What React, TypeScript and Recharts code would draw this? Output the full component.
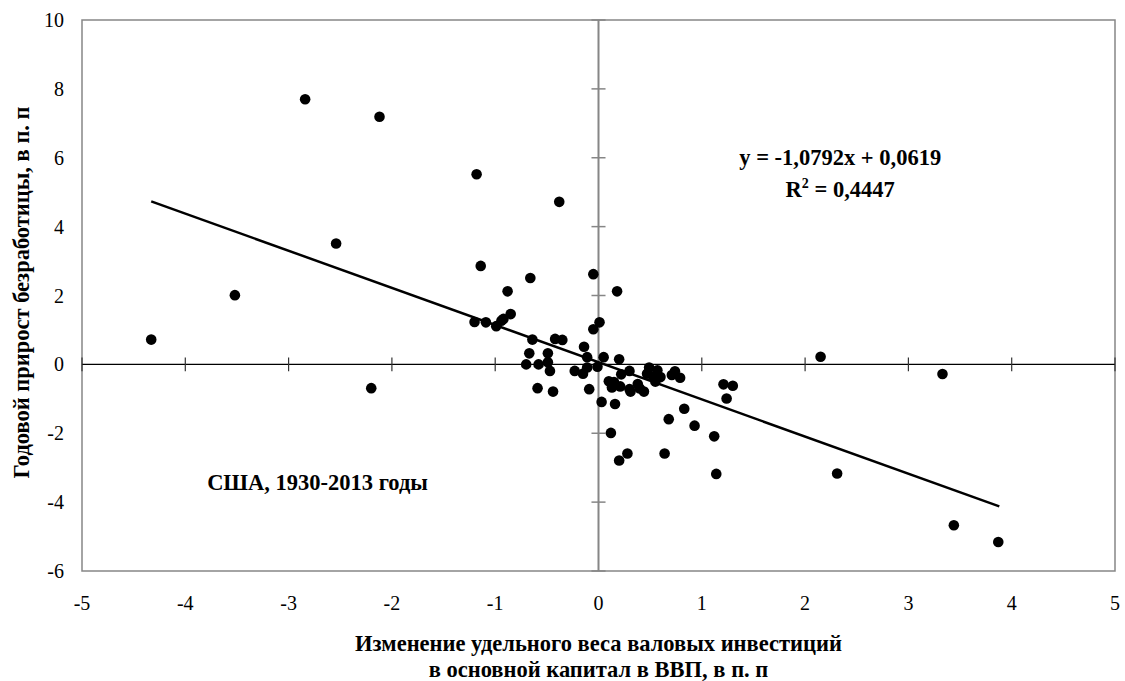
import {
  ScatterChart,
  Scatter,
  XAxis,
  YAxis,
  ReferenceLine,
  ReferenceArea,
  ReferenceDot,
} from "recharts";

// Change in the share of gross fixed capital investment in GDP (pp)
const xValues = [
  -4.33, -3.52, -2.84, -2.12, -2.54, -2.2, -1.18, -0.38, 2.15, 3.33, 2.31, 3.44, 3.87,
  -1.14, -0.66, -0.05, 0.18, -0.88, -0.85, -0.92, -0.94, -1.2, -1.09, -0.99, 0.01, -0.05,
  -0.64, -0.42, -0.35, -0.14, -0.67, -0.49, -0.11, 0.05, 0.2, -0.7, -0.58, -0.49, -0.47,
  -0.23, -0.15, -0.11, -0.01, -0.59, -0.44, -0.09, 0.03, 0.16, 0.12, 0.28, 0.2, 0.64,
  1.14, 1.12, 0.93, 0.68, 0.83, 1.21, 1.3, 1.24, 0.22, 0.3, 0.1, 0.15, 0.13, 0.21, 0.3,
  0.31, 0.38, 0.44, 0.4, 0.49, 0.47, 0.57, 0.53, 0.6, 0.55, 0.74, 0.71, 0.79,
];

// Annual change in the unemployment rate (pp)
const yValues = [
  0.72, 2.01, 7.7, 7.19, 3.51, -0.69, 5.52, 4.72, 0.22, -0.28, -3.17, -4.67, -5.16,
  2.86, 2.51, 2.62, 2.12, 2.12, 1.46, 1.32, 1.27, 1.23, 1.22, 1.11, 1.22, 1.02,
  0.72, 0.74, 0.71, 0.51, 0.32, 0.32, 0.21, 0.21, 0.15, 0.0, 0.0, 0.06, -0.19,
  -0.19, -0.27, -0.09, -0.07, -0.69, -0.79, -0.72, -1.09, -1.15, -1.99, -2.59, -2.79, -2.59,
  -3.18, -2.09, -1.78, -1.59, -1.29, -0.58, -0.62, -0.99, -0.29, -0.19, -0.49, -0.51, -0.67, -0.64, -0.72,
  -0.79, -0.57, -0.79, -0.7, -0.09, -0.27, -0.17, -0.35, -0.37, -0.5, -0.2, -0.31, -0.39,
];

const xTicks = [-5, -4, -3, -2, -1, 0, 1, 2, 3, 4, 5];
const yTicks = [-6, -4, -2, 0, 2, 4, 6, 8, 10];

// linear trend shown in the chart
const slope = -1.0792;
const intercept = 0.0619;
const rSquared = "0,4447";
const trendRange = [-4.33, 3.88];

const points = xValues.map((x, i) => ({ x, y: yValues[i] }));
const trendPoints = trendRange.map((x) => ({ x, y: slope * x + intercept }));

const FONT = "'Liberation Serif', 'Times New Roman', serif";
const BOLD = { fontFamily: FONT, fontWeight: "bold", fontSize: 22.5 } as const;

type VB = { x: number; y: number; width: number; height: number };

function YTitle(props: { viewBox?: VB }) {
  const vb = props.viewBox ?? { x: 0, y: 0, width: 0, height: 0 };
  const cx = vb.x - 1;
  const cy = vb.y + vb.height / 2 - 3;
  return (
    <text
      x={cx}
      y={cy}
      transform={`rotate(-90, ${cx}, ${cy})`}
      textAnchor="middle"
      dominantBaseline="central"
      style={BOLD}
      fill="#000"
    >
      Годовой прирост безработицы, в п. п
    </text>
  );
}

function XTitle(props: { viewBox?: VB }) {
  const vb = props.viewBox ?? { x: 0, y: 0, width: 0, height: 0 };
  const cx = vb.x + vb.width / 2;
  return (
    <text textAnchor="middle" style={BOLD} fill="#000">
      <tspan x={cx} y={vb.y + 80}>
        Изменение удельного веса валовых инвестиций
      </tspan>
      <tspan x={cx} y={vb.y + 106}>
        в основной капитал в ВВП, в п. п
      </tspan>
    </text>
  );
}

function EquationLabel(props: { viewBox?: VB }) {
  const { x = 0, y = 0 } = props.viewBox ?? {};
  const sign = intercept >= 0 ? "+" : "-";
  const fmt = (v: number) => Math.abs(v).toFixed(4).replace(".", ",");
  return (
    <text textAnchor="middle" style={BOLD} fill="#000">
      <tspan x={x} y={y - 16}>
        {`y = ${slope < 0 ? "-" : ""}${fmt(slope)}x ${sign} ${fmt(intercept)}`}
      </tspan>
      <tspan x={x} y={y + 16}>
        R<tspan dy={-9} style={{ fontSize: 14 }}>2</tspan>
        <tspan dy={9}>{` = ${rSquared}`}</tspan>
      </tspan>
    </text>
  );
}

function CountryLabel(props: { viewBox?: VB }) {
  const { x = 0, y = 0 } = props.viewBox ?? {};
  return (
    <text x={x} y={y} textAnchor="middle" style={BOLD} fill="#000">
      США, 1930-2013 годы
    </text>
  );
}

function Dot(props: { cx?: number; cy?: number }) {
  return <circle cx={props.cx} cy={props.cy} r={5.3} fill="#000" />;
}

export default function App() {
  const tickStyle = { fontFamily: FONT, fontSize: 20, fill: "#000" };
  return (
    <div style={{ position: "absolute", left: 0, top: 0, background: "#fff", fontFamily: FONT }}>
      <ScatterChart width={1125} height={681} margin={{ top: 20, right: 10, bottom: 0, left: 22 }}>
        <XAxis
          type="number"
          dataKey="x"
          domain={[-5, 5]}
          ticks={xTicks}
          axisLine={false}
          tickLine={false}
          tickSize={0}
          tickMargin={25}
          tick={tickStyle}
          height={110}
          interval={0}
          label={<XTitle />}
        />
        <YAxis
          type="number"
          dataKey="y"
          domain={[-6, 10]}
          ticks={yTicks}
          axisLine={false}
          tickLine={false}
          tickSize={0}
          tickMargin={18}
          tick={tickStyle}
          width={60}
          interval={0}
          label={<YTitle />}
        />
        <ReferenceArea x1={-5} x2={5} y1={-6} y2={10} fill="none" stroke="#868686" strokeWidth={1.5} />
        <ReferenceLine y={0} stroke="#000" strokeWidth={1.2} />
        <ReferenceLine x={0} stroke="#868686" strokeWidth={2} />
        {xTicks
          .filter((t) => t !== 0)
          .map((t) => (
            <ReferenceLine
              key={`xt${t}`}
              segment={[
                { x: t, y: -0.2 },
                { x: t, y: 0.2 },
              ]}
              stroke="#333"
              strokeWidth={1.2}
            />
          ))}
        {yTicks
          .filter((t) => t !== 0)
          .map((t) => (
            <ReferenceLine
              key={`yt${t}`}
              segment={[
                { x: -0.068, y: t },
                { x: 0.068, y: t },
              ]}
              stroke="#868686"
              strokeWidth={1.5}
            />
          ))}
        <Scatter
          data={trendPoints}
          line={{ stroke: "#000", strokeWidth: 2.5 }}
          shape={() => <g />}
          isAnimationActive={false}
          legendType="none"
        />
        <Scatter data={points} fill="#000" shape={<Dot />} isAnimationActive={false} />
        <ReferenceDot x={2.34} y={5.33} r={0} stroke="none" label={<EquationLabel />} />
        <ReferenceDot x={-2.72} y={-3.65} r={0} stroke="none" label={<CountryLabel />} />
      </ScatterChart>
    </div>
  );
}
